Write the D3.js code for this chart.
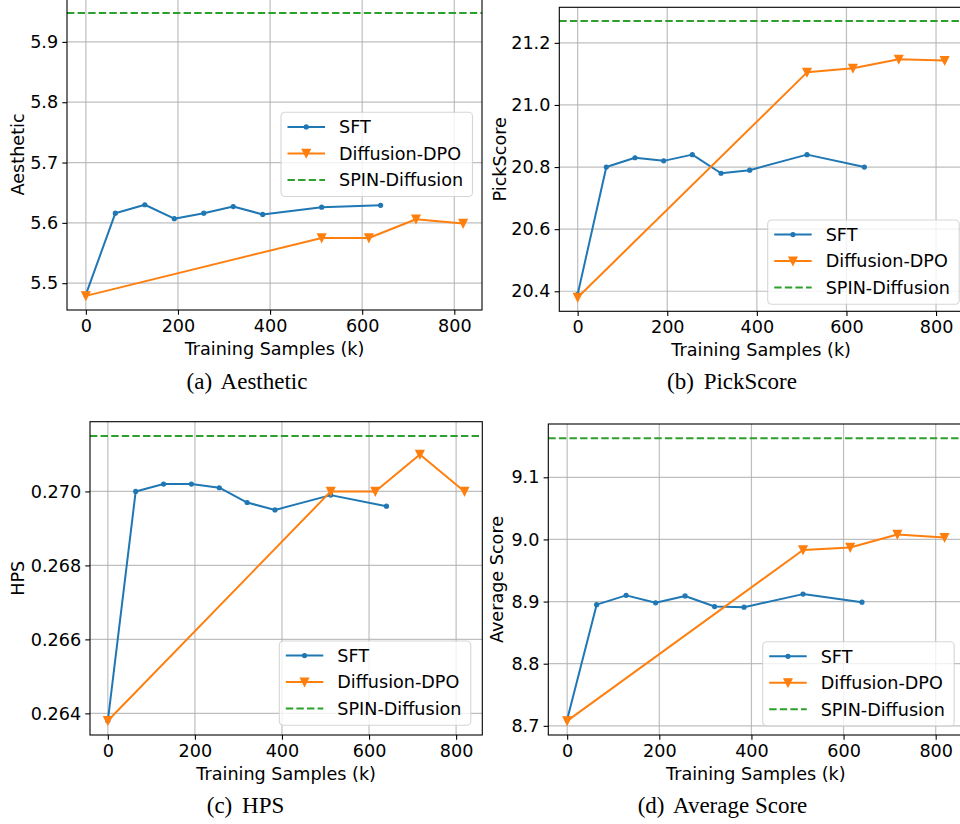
<!DOCTYPE html>
<html>
<head>
<meta charset="utf-8">
<script src="https://cdn.jsdelivr.net/npm/d3@7"></script>
<style>
  html, body { margin: 0; padding: 0; background: #fff; }
  svg { display: block; }
  .tick text { font-family: "DejaVu Sans", sans-serif; font-size: 17.6px; fill: #000; }
</style>
</head>
<body>
<svg id="chart" width="960" height="824"></svg>
<script>
// ---------------- data ----------------
const seriesNames = ["SFT", "Diffusion-DPO", "SPIN-Diffusion"];
const sftX = [0, 64, 128, 192, 256, 320, 384, 512, 640];
const dpoX = [0, 512, 614.4, 716.8, 819.2];
const xTicks = [0, 200, 400, 600, 800];

const aestheticSFT = [5.481, 5.616, 5.630, 5.607, 5.616, 5.627, 5.614, 5.626, 5.629];
const aestheticDPO = [5.479, 5.575, 5.575, 5.606, 5.599];
const aestheticSPIN = 5.948;
const aestheticTicks = [5.5, 5.6, 5.7, 5.8, 5.9];

const pickSFT = [20.39, 20.80, 20.83, 20.82, 20.84, 20.78, 20.79, 20.84, 20.80];
const pickDPO = [20.38, 21.105, 21.118, 21.147, 21.143];
const pickSPIN = 21.27;
const pickTicks = [20.4, 20.6, 20.8, 21.0, 21.2];

const hpsSFT = [0.2638, 0.2700, 0.2702, 0.2702, 0.2701, 0.2697, 0.2695, 0.2699, 0.2696];
const hpsDPO = [0.2638, 0.2700, 0.2700, 0.2710, 0.2700];
const hpsSPIN = 0.2715;
const hpsTicks = [0.264, 0.266, 0.268, 0.270];

const avgSFT = [8.710, 8.895, 8.910, 8.898, 8.909, 8.892, 8.891, 8.912, 8.899];
const avgDPO = [8.708, 8.983, 8.987, 9.008, 9.003];
const avgSPIN = 9.163;
const avgTicks = [8.7, 8.8, 8.9, 9.0, 9.1];

// ---------------- layout ----------------
const panels = [
  { sft: aestheticSFT, dpo: aestheticDPO, spin: aestheticSPIN, ticks: aestheticTicks, fmt: ".1f",
    ylabel: "Aesthetic", caption: "(a)", captionText: "Aesthetic",
    box: { l: 67, r: 482, t: -1.2, b: 310 }, ylabelX: 24, legend: { x: 281, y: 112.3 },
    capX: 247, capY: 389 },
  { sft: pickSFT, dpo: pickDPO, spin: pickSPIN, ticks: pickTicks, fmt: ".1f",
    ylabel: "PickScore", caption: "(b)", captionText: "PickScore",
    box: { l: 559.3, r: 963, t: 7.3, b: 311.3 }, ylabelX: 505.5, legend: { x: 767.7, y: 220 },
    capX: 732, capY: 389 },
  { sft: hpsSFT, dpo: hpsDPO, spin: hpsSPIN, ticks: hpsTicks, fmt: ".3f",
    ylabel: "HPS", caption: "(c)", captionText: "HPS",
    box: { l: 90, r: 482.3, t: 421.7, b: 735 }, ylabelX: 23.5, legend: { x: 279.3, y: 641 },
    capX: 245.5, capY: 813 },
  { sft: avgSFT, dpo: avgDPO, spin: avgSPIN, ticks: avgTicks, fmt: ".1f",
    ylabel: "Average Score", caption: "(d)", captionText: "Average Score",
    box: { l: 548.3, r: 963.4, t: 424, b: 735 }, ylabelX: 503, legend: { x: 762.7, y: 641.7 },
    capX: 722.5, capY: 813 }
];

const colors = { sft: "#1f77b4", dpo: "#ff7f0e", spin: "#2ca02c" };
const svg = d3.select("#chart");
const tri = "M0,4L-4,-4L4,-4Z";

function margins(lo, hi) { const r = hi - lo; return [lo - 0.05 * r, hi + 0.05 * r]; }

panels.forEach(p => {
  const xAll = sftX.concat(dpoX);
  const yAll = p.sft.concat(p.dpo, [p.spin]);
  const x = d3.scaleLinear().domain(margins(d3.min(xAll), d3.max(xAll))).range([p.box.l, p.box.r]);
  const y = d3.scaleLinear().domain(margins(d3.min(yAll), d3.max(yAll))).range([p.box.b, p.box.t]);
  const g = svg.append("g");

  // grid
  g.append("g").selectAll("line").data(xTicks).join("line")
    .attr("x1", d => x(d)).attr("x2", d => x(d)).attr("y1", p.box.t).attr("y2", p.box.b)
    .attr("stroke", "#b0b0b0").attr("stroke-width", 1.2).attr("opacity", 0.8);
  g.append("g").selectAll("line").data(p.ticks).join("line")
    .attr("y1", d => y(d)).attr("y2", d => y(d)).attr("x1", p.box.l).attr("x2", p.box.r)
    .attr("stroke", "#b0b0b0").attr("stroke-width", 1.2).attr("opacity", 0.8);

  // lines
  const line = d3.line().x(d => x(d[0])).y(d => y(d[1]));
  const sftPts = sftX.map((v, i) => [v, p.sft[i]]);
  const dpoPts = dpoX.map((v, i) => [v, p.dpo[i]]);
  g.append("path").attr("d", line(sftPts)).attr("fill", "none")
    .attr("stroke", colors.sft).attr("stroke-width", 2).attr("stroke-linejoin", "round");
  g.append("g").selectAll("circle").data(sftPts).join("circle")
    .attr("cx", d => x(d[0])).attr("cy", d => y(d[1])).attr("r", 2)
    .attr("fill", colors.sft).attr("stroke", colors.sft).attr("stroke-width", 1.2);
  g.append("path").attr("d", line(dpoPts)).attr("fill", "none")
    .attr("stroke", colors.dpo).attr("stroke-width", 2).attr("stroke-linejoin", "round");
  g.append("g").selectAll("path").data(dpoPts).join("path")
    .attr("d", tri).attr("transform", d => `translate(${x(d[0])},${y(d[1])})`)
    .attr("fill", colors.dpo).attr("stroke", colors.dpo).attr("stroke-width", 1.3).attr("stroke-linejoin", "miter");
  g.append("line").attr("x1", p.box.l).attr("x2", p.box.r)
    .attr("y1", y(p.spin)).attr("y2", y(p.spin))
    .attr("stroke", colors.spin).attr("stroke-width", 2).attr("stroke-dasharray", "7.4,3.2");

  // axes
  const ax = g.append("g").attr("transform", `translate(0,${p.box.b})`)
    .call(d3.axisBottom(x).tickValues(xTicks).tickFormat(d3.format("d")).tickSizeInner(4.7).tickSizeOuter(0).tickPadding(4.7));
  const ay = g.append("g").attr("transform", `translate(${p.box.l},0)`)
    .call(d3.axisLeft(y).tickValues(p.ticks).tickFormat(d3.format(p.fmt)).tickSizeInner(4.7).tickSizeOuter(0).tickPadding(4.2));
  [ax, ay].forEach(a => {
    a.select(".domain").remove();
    a.selectAll(".tick line").attr("stroke", "#000").attr("stroke-width", 1.1);
    a.selectAll(".tick text").attr("font-family", null).attr("font-size", null);
  });

  // frame
  g.append("rect").attr("x", p.box.l).attr("y", p.box.t)
    .attr("width", p.box.r - p.box.l).attr("height", p.box.b - p.box.t)
    .attr("fill", "none").attr("stroke", "#000").attr("stroke-width", 1.1);

  // labels
  g.append("text").attr("x", (p.box.l + p.box.r) / 2).attr("y", p.box.b + 44.5)
    .attr("text-anchor", "middle").attr("font-family", "DejaVu Sans, sans-serif")
    .attr("font-size", 17.6).text("Training Samples (k)");
  g.append("text").attr("transform", `translate(${p.ylabelX},${(p.box.t + p.box.b) / 2}) rotate(-90)`)
    .attr("text-anchor", "middle").attr("font-family", "DejaVu Sans, sans-serif")
    .attr("font-size", 17.6).text(p.ylabel);

  // legend
  const L = g.append("g").attr("transform", `translate(${p.legend.x},${p.legend.y})`);
  L.append("rect").attr("width", 191.5).attr("height", 84.2).attr("rx", 4).attr("ry", 4)
    .attr("fill", "#fff").attr("fill-opacity", 0.8).attr("stroke", "#cccccc").attr("stroke-opacity", 0.8).attr("stroke-width", 1.1);
  const keys = ["sft", "dpo", "spin"];
  keys.forEach((k, i) => {
    const yy = 14.6 + i * 26.5;
    const ln = L.append("line").attr("x1", 6.5).attr("x2", 44).attr("y1", yy).attr("y2", yy)
      .attr("stroke", colors[k]).attr("stroke-width", 2);
    if (k === "spin") ln.attr("stroke-dasharray", "7.4,3.2");
    if (k === "sft") L.append("circle").attr("cx", 25.25).attr("cy", yy).attr("r", 2)
      .attr("fill", colors.sft).attr("stroke", colors.sft).attr("stroke-width", 1.2);
    if (k === "dpo") L.append("path").attr("d", tri).attr("transform", `translate(25.25,${yy})`)
      .attr("fill", colors.dpo).attr("stroke", colors.dpo).attr("stroke-width", 1.3);
    L.append("text").attr("x", 58).attr("y", yy).attr("dy", "0.36em")
      .attr("font-family", "DejaVu Sans, sans-serif").attr("font-size", 17.6).text(seriesNames[i]);
  });

  // caption
  const cap = svg.append("text").attr("x", p.capX).attr("y", p.capY).attr("text-anchor", "middle")
    .attr("font-family", "Liberation Serif, Times New Roman, serif").attr("font-size", 23);
  cap.append("tspan").text(p.caption);
  cap.append("tspan").attr("dx", 4).text(" " + p.captionText);
});
</script>
</body>
</html>
